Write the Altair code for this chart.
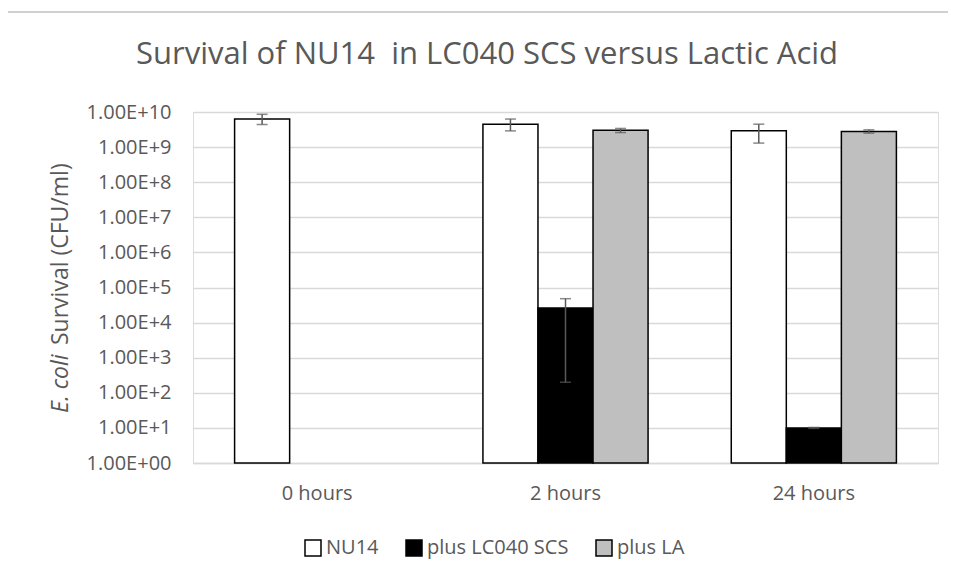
import altair as alt
import pandas as pd

# ---- data ----
times = ["0 hours", "2 hours", "24 hours"]
series = ["NU14", "plus LC040 SCS", "plus LA"]

bar_time = ["0 hours", "2 hours", "2 hours", "2 hours", "24 hours", "24 hours", "24 hours"]
bar_series = ["NU14", "NU14", "plus LC040 SCS", "plus LA", "NU14", "plus LC040 SCS", "plus LA"]
bar_value = [6.3e9, 4.5e9, 2.6e4, 3.0e9, 2.9e9, 10.0, 2.8e9]
err_low = [4.4e9, 2.9e9, 2.0e2, 2.6e9, 1.3e9, 9.7, 2.5e9]
err_high = [8.6e9, 6.3e9, 4.8e4, 3.4e9, 4.5e9, 10.3, 3.1e9]

tick_values = [1e0, 1e1, 1e2, 1e3, 1e4, 1e5, 1e6, 1e7, 1e8, 1e9, 1e10]
colors = ["#FFFFFF", "#000000", "#BFBFBF"]

title_text = "Survival of NU14 \u00a0in LC040 SCS versus Lactic Acid"

df = pd.DataFrame({
    "time": bar_time,
    "series": bar_series,
    "value": bar_value,
    "low": err_low,
    "high": err_high,
})

FONT = "Open Sans"
GREY = "#595959"
W, H = 745, 351

x_enc = alt.X("time:N", sort=times, title=None,
              scale=alt.Scale(domain=times, paddingInner=0.335, paddingOuter=0.1675),
              axis=alt.Axis(labelAngle=0, labelFont=FONT, labelFontSize=20, labelColor=GREY,
                            labelPadding=20, ticks=False, domainColor="#D9D9D9", domainWidth=1.5))
xo_enc = alt.XOffset("series:N", sort=series, scale=alt.Scale(domain=series, paddingInner=0, paddingOuter=0))

y_scale = alt.Scale(type="log", domain=[1, 1e10], nice=False)

bars = alt.Chart(df).mark_bar(stroke="#000000", strokeWidth=1.5).encode(
    x=x_enc,
    xOffset=xo_enc,
    y=alt.Y("value:Q", scale=y_scale, title=None,
            axis=alt.Axis(values=tick_values, grid=True, gridColor="#D9D9D9", gridWidth=1.5,
                          domain=False, ticks=False, labelFont=FONT, labelFontSize=20,
                          labelColor=GREY, labelPadding=22,
                          labelExpr="'1.00E+' + (datum.value < 10 ? '0' : '') + round(log(datum.value)/LN10)")),
    y2=alt.datum(1),
    color=alt.Color("series:N", sort=series,
                    scale=alt.Scale(domain=series, range=colors),
                    legend=alt.Legend(title=None, orient="none", direction="horizontal",
                                      legendX=110, legendY=426,
                                      symbolType="square", symbolSize=256,
                                      symbolStrokeColor="#000000", symbolStrokeWidth=1.5,
                                      symbolOpacity=1,
                                      labelFont=FONT, labelFontSize=20, labelColor=GREY,
                                      labelOffset=3, columnPadding=24, padding=0)),
)

rules = alt.Chart(df).mark_rule(color=GREY, strokeWidth=1.5).encode(
    x=alt.X("time:N", sort=times),
    xOffset=alt.XOffset("series:N", sort=series),
    y=alt.Y("low:Q", scale=y_scale),
    y2="high:Q",
)
caps_lo = alt.Chart(df).mark_tick(color=GREY, thickness=1.5, size=11).encode(
    x=alt.X("time:N", sort=times),
    xOffset=alt.XOffset("series:N", sort=series),
    y=alt.Y("low:Q", scale=y_scale),
)
caps_hi = alt.Chart(df).mark_tick(color=GREY, thickness=1.5, size=11).encode(
    x=alt.X("time:N", sort=times),
    xOffset=alt.XOffset("series:N", sort=series),
    y=alt.Y("high:Q", scale=y_scale),
)

frame = alt.Chart(pd.DataFrame({"k": [0]})).mark_rect(fill=None, stroke="#D0D0D0", strokeWidth=2).encode(
    x=alt.value(-186), x2=alt.value(W + 60), y=alt.value(-100), y2=alt.value(H + 140))

title_mark = alt.Chart(pd.DataFrame({"t": [title_text]})).mark_text(
    align="center", baseline="alphabetic", font=FONT, fontSize=31, color=GREY).encode(
    text="t:N", x=alt.value(294), y=alt.value(-48))

ytitle_a = alt.Chart(pd.DataFrame({"t": ["E. coli"]})).mark_text(
    angle=270, align="left", baseline="middle", font=FONT, fontSize=23,
    fontStyle="italic", color=GREY).encode(text="t:N", x=alt.value(-132), y=alt.value(301))
ytitle_b = alt.Chart(pd.DataFrame({"t": ["Survival (CFU/ml)"]})).mark_text(
    angle=270, align="left", baseline="middle", font=FONT, fontSize=23,
    color=GREY).encode(text="t:N", x=alt.value(-132), y=alt.value(233))

chart = alt.layer(frame, bars, rules, caps_lo, caps_hi, title_mark, ytitle_a, ytitle_b).resolve_scale(
    y="shared").properties(
    width=W, height=H,
    autosize=alt.AutoSizeParams(type="none"),
    padding={"left": 185, "top": 104, "right": 10, "bottom": 100},
).configure_view(stroke=None).configure(background="#FFFFFF")

chart.save("out.html", embed_options={"renderer": "svg", "actions": False})
